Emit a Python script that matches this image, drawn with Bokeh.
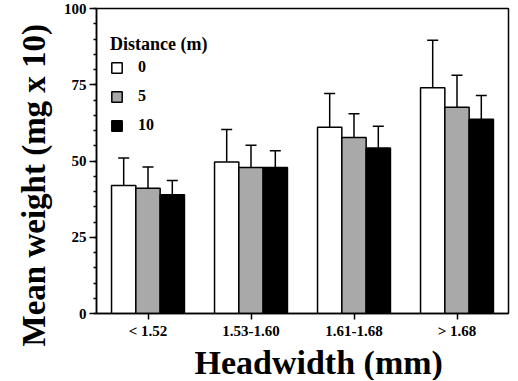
from bokeh.plotting import figure
from bokeh.models import (ColumnDataSource, FactorRange, Range1d, SingleIntervalTicker,
                          Whisker, TeeHead, Title)
from bokeh.transform import dodge
from bokeh.embed import file_html
from bokeh.resources import INLINE

# ---- data ----
categories = ["< 1.52", "1.53-1.60", "1.61-1.68", "> 1.68"]
distances = ["0", "5", "10"]
mean_0 = [42.0, 49.7, 61.1, 74.0]
mean_5 = [41.1, 47.9, 57.7, 67.6]
mean_10 = [38.9, 47.9, 54.3, 63.7]
err_0 = [9.0, 10.6, 11.0, 15.6]
err_5 = [6.9, 7.3, 7.8, 10.5]
err_10 = [4.7, 5.5, 7.1, 7.8]
y_ticks_interval = 25
y_title = "Mean weight (mg x 10)"
x_title = "Headwidth (mm)"
legend_title = "Distance (m)"

FONT = "Liberation Serif"
BW = 0.236

p = figure(width=510, height=380,
           x_range=FactorRange(*categories, range_padding=0),
           y_range=Range1d(0, 100),
           output_backend="svg", toolbar_location=None,
           min_border_left=96, min_border_top=8, min_border_right=2,
           min_border_bottom=64)
p.xgrid.visible = False
p.ygrid.visible = False
p.outline_line_color = "black"
p.outline_line_width = 1.5
p.background_fill_color = "white"
p.border_fill_color = "white"

series = [
    (distances[0], mean_0, err_0, -BW, "white"),
    (distances[1], mean_5, err_5, 0.0, "#a9a9a9"),
    (distances[2], mean_10, err_10, BW, "black"),
]

for label, means, errs, off, color in series:
    src = ColumnDataSource(dict(
        cat=categories,
        top=means,
        upper=[m + e for m, e in zip(means, errs)],
        lower=[m - e for m, e in zip(means, errs)],
    ))
    p.vbar(x=dodge("cat", off, range=p.x_range), top="top", width=BW, source=src,
           fill_color=color, line_color="black", line_width=1.5, legend_label=label)
    w = Whisker(base=dodge("cat", off, range=p.x_range), upper="upper", lower="lower",
                source=src, line_color="black", line_width=1.5,
                upper_head=TeeHead(size=11, line_color="black", line_width=1.5),
                lower_head=TeeHead(size=11, line_color="black", line_width=1.5))
    p.add_layout(w)

# axes
for ax in (p.xaxis[0], p.yaxis[0]):
    ax.axis_line_width = 1.5
    ax.major_tick_line_width = 1.5
    ax.minor_tick_line_width = 1.5
    ax.major_label_text_font = FONT
    ax.major_label_text_font_style = "bold"
    ax.major_label_text_font_size = "15px"
    ax.major_label_text_color = "black"
    ax.major_tick_in = 0

p.yaxis.ticker = SingleIntervalTicker(interval=y_ticks_interval, num_minor_ticks=5)
p.yaxis.major_tick_out = 7
p.yaxis.minor_tick_in = 0
p.yaxis.minor_tick_out = 3
p.yaxis.major_label_standoff = 3

p.xaxis.major_tick_out = 6
p.xaxis.major_label_standoff = 3

# axis titles (as side titles so they can be offset like the reference)
p.add_layout(Title(text=y_title, align="left", offset=-33, standoff=18,
                   text_font=FONT, text_font_style="bold", text_font_size="33px",
                   text_color="black"), "left")
p.add_layout(Title(text=x_title, align="left", offset=98, standoff=0,
                   text_font=FONT, text_font_style="bold", text_font_size="34px",
                   text_color="black"), "below")

# legend
lg = p.legend[0]
lg.title = legend_title
lg.title_text_font = FONT
lg.title_text_font_style = "bold"
lg.title_text_font_size = "18px"
lg.title_text_color = "black"
lg.title_standoff = 3
lg.label_text_font = FONT
lg.label_text_font_style = "bold"
lg.label_text_font_size = "16px"
lg.label_text_color = "black"
lg.border_line_color = None
lg.background_fill_alpha = 0
lg.glyph_width = 13
lg.glyph_height = 13
lg.label_height = 13
lg.spacing = 11
lg.label_standoff = 15
lg.padding = 3
lg.margin = 0
lg.location = (14, 179)

open("out.html", "w").write(file_html(p, INLINE))
